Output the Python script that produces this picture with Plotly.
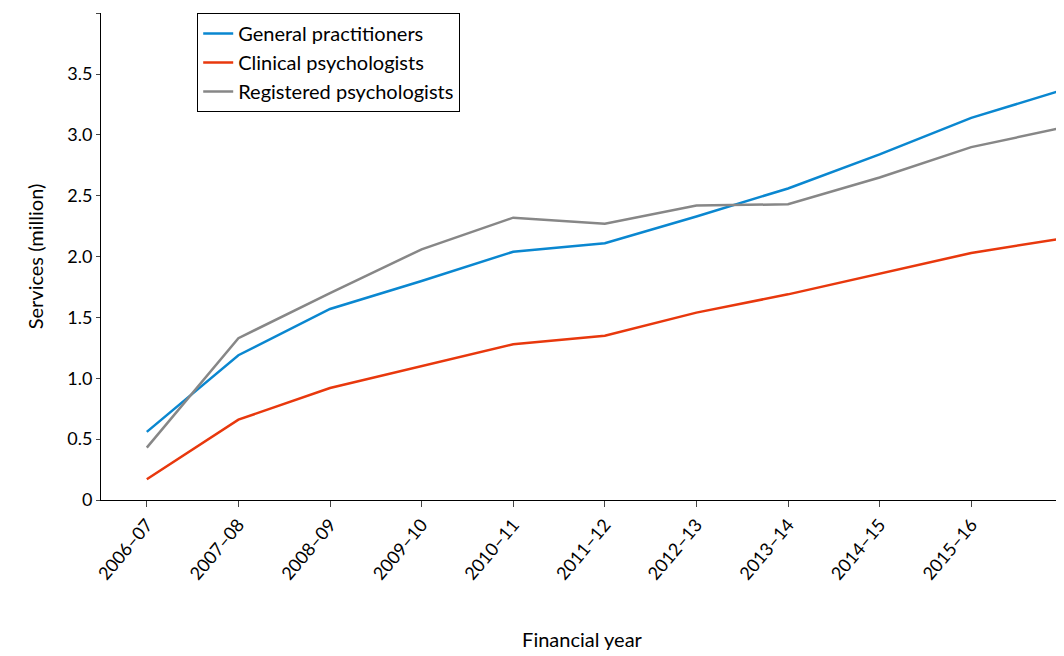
import plotly.graph_objects as go

years = ["2006–07", "2007–08", "2008–09", "2009–10", "2010–11", "2011–12",
         "2012–13", "2013–14", "2014–15", "2015–16", "2016–17"]
gp = [0.56, 1.19, 1.57, 1.80, 2.04, 2.11, 2.33, 2.56, 2.84, 3.14, 3.37]
clinical = [0.17, 0.66, 0.92, 1.10, 1.28, 1.35, 1.54, 1.69, 1.86, 2.03, 2.15]
registered = [0.43, 1.33, 1.70, 2.06, 2.32, 2.27, 2.42, 2.43, 2.65, 2.90, 3.06]

x = list(range(len(years)))
fig = go.Figure()
for name, vals, col in [("General practitioners", gp, "#0a87d0"),
                        ("Clinical psychologists", clinical, "#e8380d"),
                        ("Registered psychologists", registered, "#878787")]:
    fig.add_trace(go.Scatter(x=x, y=vals, name=name, mode="lines",
                             line=dict(color=col, width=2.5), cliponaxis=False))

fig.update_layout(
    width=1064, height=656, plot_bgcolor="white", paper_bgcolor="white",
    margin=dict(l=93, r=9, t=5, b=164),
    font=dict(family="Lato", size=18, color="black"),
    legend=dict(x=0.1, y=1.0, xanchor="left", yanchor="top",
                bordercolor="black", borderwidth=1, font=dict(size=20)),
)
fig.update_xaxes(tickvals=x, ticktext=years, tickangle=-50, range=[-0.5, 10.002],
                 showline=True, linecolor="black", ticks="outside",
                 ticklen=6, showgrid=False, zeroline=False,
                 title=dict(text="Financial year", standoff=50, font=dict(size=20)))
fig.update_yaxes(range=[0, 4.002], tickvals=[0, 0.5, 1, 1.5, 2, 2.5, 3, 3.5, 4],
                 ticktext=["0", "0.5", "1.0", "1.5", "2.0", "2.5", "3.0", "3.5", "4.0"],
                 showline=True, linecolor="black", ticks="outside", ticklen=4,
                 showgrid=False, zeroline=False,
                 title=dict(text="Services (million)", standoff=18, font=dict(size=20)))

fig.write_html("out.html")
